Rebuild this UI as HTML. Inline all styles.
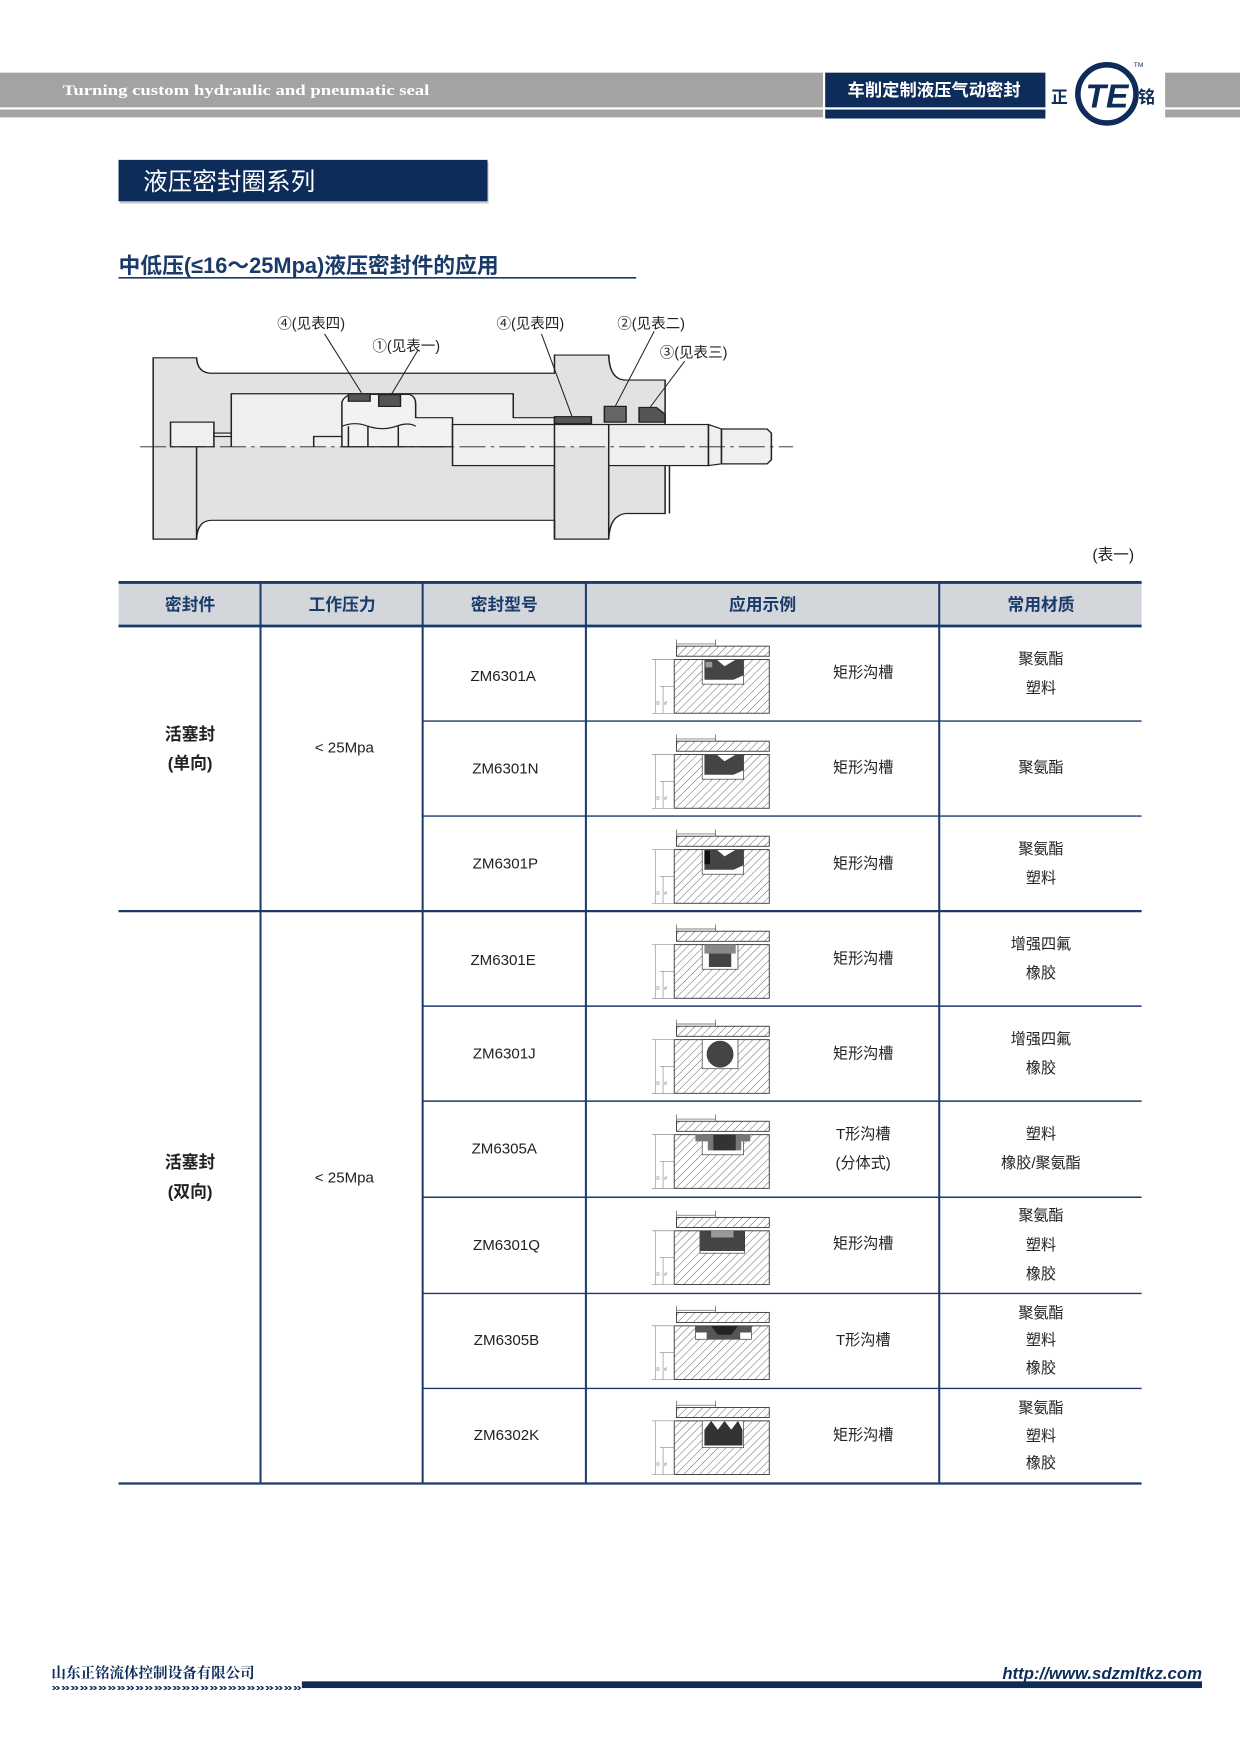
<!DOCTYPE html>
<html><head><meta charset="utf-8"><style>
html,body{margin:0;padding:0;background:#fff}
svg{display:block}
text{font-family:"Liberation Sans","Noto Sans CJK SC",sans-serif}
</style></head><body>
<svg width="1240" height="1754" viewBox="0 0 1109 1569" preserveAspectRatio="none" xmlns="http://www.w3.org/2000/svg">
<defs>
<pattern id="h" width="5" height="5" patternUnits="userSpaceOnUse" patternTransform="rotate(45)">
<rect width="5" height="5" fill="#fff"/><line x1="0" y1="0" x2="0" y2="5" stroke="#555" stroke-width="0.8"/></pattern>
<g id="base">
<line x1="27" y1="4" x2="62" y2="4" stroke="#555" stroke-width="0.6"/>
<line x1="27" y1="0" x2="27" y2="6" stroke="#555" stroke-width="0.6"/>
<line x1="62" y1="0" x2="62" y2="6" stroke="#555" stroke-width="0.6"/>
<rect x="27" y="6" width="83" height="9" fill="url(#h)" stroke="#333" stroke-width="0.8"/>
<rect x="25" y="18" width="85" height="48" fill="url(#h)" stroke="#333" stroke-width="0.8"/>
<line x1="5" y1="18" x2="25" y2="18" stroke="#777" stroke-width="0.5"/>
<line x1="12" y1="42" x2="25" y2="42" stroke="#777" stroke-width="0.5"/>
<line x1="5" y1="66" x2="25" y2="66" stroke="#777" stroke-width="0.5"/>
<line x1="8" y1="18" x2="8" y2="66" stroke="#777" stroke-width="0.5"/>
<line x1="15" y1="42" x2="15" y2="66" stroke="#777" stroke-width="0.5"/>
<text x="9" y="58" font-size="4" fill="#555">D</text><text x="16" y="58" font-size="4" fill="#555">d</text>
</g>
</defs>

<!-- header -->
<rect x="0" y="65" width="736" height="31" fill="#a3a3a3"/>
<rect x="0" y="98" width="736" height="7" fill="#a3a3a3"/>
<rect x="1042" y="65" width="67" height="31" fill="#a3a3a3"/>
<rect x="1042" y="98" width="67" height="7" fill="#a3a3a3"/>
<rect x="738" y="65" width="197" height="31" fill="#0d2c5a"/>
<rect x="738" y="98" width="197" height="8" fill="#0d2c5a"/>
<text x="56" y="85" font-weight="bold" font-size="13.5" fill="#fff" style="font-family:'Liberation Serif',serif" textLength="328" lengthAdjust="spacingAndGlyphs">Turning custom hydraulic and pneumatic seal</text>
<text x="758" y="86" font-size="15.5" font-weight="bold" fill="#fff">车削定制液压气动密封</text>
<rect x="935" y="55" width="107" height="60" fill="#fff"/>
<circle cx="990" cy="84" r="26" fill="#fff" stroke="#0d2c5a" stroke-width="5"/>
<text x="990" y="96" font-size="30" font-weight="bold" font-style="italic" fill="#0d2c5a" text-anchor="middle">TE</text>
<text x="940" y="92" font-size="15" font-weight="bold" fill="#0d2c5a">正</text>
<text x="1018" y="92" font-size="15" font-weight="bold" fill="#0d2c5a">铭</text>
<text x="1014" y="60" font-size="6" fill="#0d2c5a">TM</text>

<!-- title -->
<rect x="107" y="145" width="330" height="37" fill="#c8c8c8"/>
<rect x="106" y="143" width="330" height="37" fill="#0d2c5a"/>
<text x="128" y="170" font-size="22" fill="#fff">液压密封圈系列</text>
<text x="106" y="244" font-size="19.5" font-weight="bold" fill="#1a3a6a">中低压(≤16～25Mpa)液压密封件的应用</text>
<line x1="106" y1="248.5" x2="569" y2="248.5" stroke="#1a3a6a" stroke-width="1.5"/>

<!-- cylinder diagram -->
<g transform="translate(117.6,265) scale(0.388,0.306)" stroke="#222" stroke-width="3.5">
<path d="M50,180 H150 Q152,225 185,225 H975 V172 H1100 Q1102,245 1140,245 H1230 V635 H1140 Q1102,640 1100,710 H975 V655 H185 Q152,655 150,710 H50 Z" fill="#e2e2e4"/>
<line x1="150" y1="440" x2="150" y2="710"/>
<line x1="975" y1="440" x2="975" y2="655"/>
<line x1="1100" y1="440" x2="1100" y2="640"/>
<path d="M230,440 V285 H880 V355 H975 V440" fill="#efeff1"/>
<rect x="90" y="368" width="100" height="72" fill="#efeff1"/>
<rect x="190" y="400" width="40" height="10" fill="#efeff1"/>
<path d="M485,440 V310 Q490,290 510,287 H640 Q655,292 655,315 V355 H740 V440 Z" fill="#f2f2f4"/>
<path d="M485,380 Q515,365 545,380 Q580,395 615,378 Q640,368 655,380" fill="none"/>
<line x1="500" y1="380" x2="500" y2="440"/><line x1="545" y1="380" x2="545" y2="440"/><line x1="615" y1="380" x2="615" y2="440"/>
<path d="M420,440 V410 H485" fill="none"/>
<rect x="740" y="375" width="590" height="120" fill="#efeff1"/>
<path d="M1330,375 L1360,388 V490 L1330,495 Z" fill="#efeff1"/>
<path d="M1360,388 H1465 L1475,400 V478 L1465,490 H1360 Z" fill="#efeff1"/>
<path d="M975,440 V655 H1100 V440" fill="#e2e2e4" stroke="none"/>
<line x1="975" y1="375" x2="975" y2="710"/><line x1="1100" y1="375" x2="1100" y2="710"/>
<line x1="1240" y1="495" x2="1240" y2="635"/>
<rect x="500" y="285" width="50" height="22" fill="#555"/>
<rect x="570" y="288" width="50" height="34" fill="#555"/>
<rect x="975" y="352" width="85" height="20" fill="#555"/>
<path d="M1090,322 H1140 V368 H1090 Z" fill="#666"/>
<path d="M1170,325 H1210 L1230,345 V368 H1170 Z" fill="#555"/>
<g stroke-width="2.5">
<line x1="445" y1="110" x2="530" y2="282"/><line x1="660" y1="158" x2="600" y2="285"/>
<line x1="945" y1="110" x2="1015" y2="350"/><line x1="1205" y1="102" x2="1115" y2="322"/>
<line x1="1275" y1="190" x2="1195" y2="325"/>
</g>
<line x1="20" y1="440" x2="1525" y2="440" stroke-width="2.5" stroke-dasharray="60,12,8,12"/>
</g>
<g font-size="13" fill="#222">
<text x="248" y="294">④(见表四)</text><text x="333" y="314">①(见表一)</text>
<text x="444" y="294">④(见表四)</text><text x="552" y="294">②(见表二)</text>
<text x="590" y="320">③(见表三)</text>
<text x="977" y="501" font-size="14">(表一)</text>
</g>

<!-- table -->
<rect x="106" y="521" width="915" height="39" fill="#d3d6db"/>
<g stroke="#1b3a6b">
<line x1="106" y1="521" x2="1021" y2="521" stroke-width="2.5"/>
<line x1="106" y1="560" x2="1021" y2="560" stroke-width="2.5"/>
<line x1="106" y1="815" x2="1021" y2="815" stroke-width="2"/>
<line x1="106" y1="1327" x2="1021" y2="1327" stroke-width="2"/>
<g stroke-width="1.3">
<line x1="378" y1="645" x2="1021" y2="645"/><line x1="378" y1="730" x2="1021" y2="730"/>
<line x1="378" y1="900" x2="1021" y2="900"/><line x1="378" y1="985" x2="1021" y2="985"/>
<line x1="378" y1="1071" x2="1021" y2="1071"/><line x1="378" y1="1157" x2="1021" y2="1157"/>
<line x1="378" y1="1242" x2="1021" y2="1242"/>
</g>
<g stroke-width="1.8">
<line x1="233" y1="521" x2="233" y2="1327"/><line x1="378" y1="521" x2="378" y2="1327"/>
<line x1="524" y1="521" x2="524" y2="1327"/><line x1="840" y1="521" x2="840" y2="1327"/>
</g>
</g>
<g font-size="15" font-weight="bold" fill="#1a3a6a" text-anchor="middle">
<text x="170" y="546">密封件</text><text x="306" y="546">工作压力</text><text x="451" y="546">密封型号</text>
<text x="682" y="546">应用示例</text><text x="931" y="546">常用材质</text>
</g>
<g font-size="15" font-weight="bold" fill="#222" text-anchor="middle">
<text x="170" y="662">活塞封</text><text x="170" y="688">(单向)</text>
<text x="170" y="1045">活塞封</text><text x="170" y="1071">(双向)</text>
</g>
<g font-size="13.5" fill="#222" text-anchor="middle">
<text x="308" y="673">&lt; 25Mpa</text><text x="308" y="1058">&lt; 25Mpa</text>
<text x="450" y="609">ZM6301A</text><text x="452" y="692">ZM6301N</text><text x="452" y="777">ZM6301P</text>
<text x="450" y="863">ZM6301E</text><text x="451" y="947">ZM6301J</text><text x="451" y="1032">ZM6305A</text>
<text x="453" y="1118">ZM6301Q</text><text x="453" y="1203">ZM6305B</text><text x="453" y="1288">ZM6302K</text>
<text x="772" y="606">矩形沟槽</text><text x="772" y="691">矩形沟槽</text><text x="772" y="777">矩形沟槽</text>
<text x="772" y="862">矩形沟槽</text><text x="772" y="947">矩形沟槽</text>
<text x="772" y="1019">T形沟槽</text><text x="772" y="1045">(分体式)</text>
<text x="772" y="1117">矩形沟槽</text><text x="772" y="1203">T形沟槽</text><text x="772" y="1288">矩形沟槽</text>
<text x="931" y="594">聚氨酯</text><text x="931" y="620">塑料</text>
<text x="931" y="691">聚氨酯</text>
<text x="931" y="764">聚氨酯</text><text x="931" y="790">塑料</text>
<text x="931" y="849">增强四氟</text><text x="931" y="875">橡胶</text>
<text x="931" y="934">增强四氟</text><text x="931" y="960">橡胶</text>
<text x="931" y="1019">塑料</text><text x="931" y="1045">橡胶/聚氨酯</text>
<text x="931" y="1092">聚氨酯</text><text x="931" y="1118">塑料</text><text x="931" y="1144">橡胶</text>
<text x="931" y="1179">聚氨酯</text><text x="931" y="1203">塑料</text><text x="931" y="1228">橡胶</text>
<text x="931" y="1264">聚氨酯</text><text x="931" y="1289">塑料</text><text x="931" y="1313">橡胶</text>
</g>

<!-- sketches -->
<g transform="translate(578,572)"><use href="#base"/><rect x="50" y="18" width="37" height="22" fill="#fff" stroke="#333" stroke-width="0.6"/><path d="M52,18 H63 L70,24 L80,18 H87 V32 L78,36 H52 Z" fill="#444"/><rect x="53" y="20" width="6" height="5" fill="#999"/></g>
<g transform="translate(578,657)"><use href="#base"/><rect x="50" y="18" width="37" height="22" fill="#fff" stroke="#333" stroke-width="0.6"/><path d="M52,18 H63 L70,24 L80,18 H87 V32 L78,36 H52 Z" fill="#444"/></g>
<g transform="translate(578,742)"><use href="#base"/><rect x="50" y="18" width="37" height="22" fill="#fff" stroke="#333" stroke-width="0.6"/><path d="M52,18 H63 L70,24 L80,18 H87 V32 L78,36 H52 Z" fill="#444"/><rect x="52" y="19" width="5" height="12" fill="#111"/></g>
<g transform="translate(578,827)"><use href="#base"/><rect x="50" y="18" width="32" height="22" fill="#fff" stroke="#333" stroke-width="0.6"/><rect x="52" y="18" width="28" height="8" fill="#888"/><rect x="56" y="26" width="20" height="12" fill="#444"/></g>
<g transform="translate(578,912)"><use href="#base"/><rect x="50" y="18" width="32" height="26" fill="#fff" stroke="#333" stroke-width="0.6"/><circle cx="66" cy="31" r="12" fill="#444"/></g>
<g transform="translate(578,997)"><use href="#base"/><rect x="50" y="18" width="37" height="18" fill="#fff" stroke="#333" stroke-width="0.6"/><path d="M44,18 H93 V24 H85 V32 H55 V24 H44 Z" fill="#777"/><rect x="60" y="18" width="20" height="14" fill="#333"/></g>
<g transform="translate(578,1083)"><use href="#base"/><rect x="48" y="18" width="40" height="20" fill="#fff" stroke="#333" stroke-width="0.6"/><path d="M48,18 H88 V36 H48 Z" fill="#444"/><rect x="58" y="18" width="20" height="6" fill="#999"/></g>
<g transform="translate(578,1168)"><use href="#base"/><rect x="44" y="18" width="50" height="12" fill="#fff" stroke="#333" stroke-width="0.6"/><path d="M44,18 H94 V24 H84 V30 H54 V24 H44 Z" fill="#555"/><path d="M58,18 L64,26 H76 L82,18" fill="#222"/></g>
<g transform="translate(578,1253)"><use href="#base"/><rect x="50" y="18" width="37" height="24" fill="#fff" stroke="#333" stroke-width="0.6"/><path d="M52,40 V26 L58,18 L64,26 L70,18 L76,26 L82,18 L86,26 V40 Z" fill="#333"/></g>

<!-- footer -->
<text x="46" y="1501" font-size="13" font-weight="bold" fill="#0d2c5a" style="font-family:'Liberation Serif','Noto Serif CJK SC',serif">山东正铭流体控制设备有限公司</text>
<text x="46" y="1512" font-size="9" font-weight="bold" fill="#0d2c5a" textLength="224" lengthAdjust="spacingAndGlyphs">»»»»»»»»»»»»»»»»»»»»»»»»»»»</text>
<rect x="270" y="1504" width="805" height="6" fill="#0d2c5a"/>
<text x="1075" y="1502" font-size="15" font-weight="bold" font-style="italic" fill="#0d2c5a" text-anchor="end">http://www.sdzmltkz.com</text>
</svg>
</body></html>
